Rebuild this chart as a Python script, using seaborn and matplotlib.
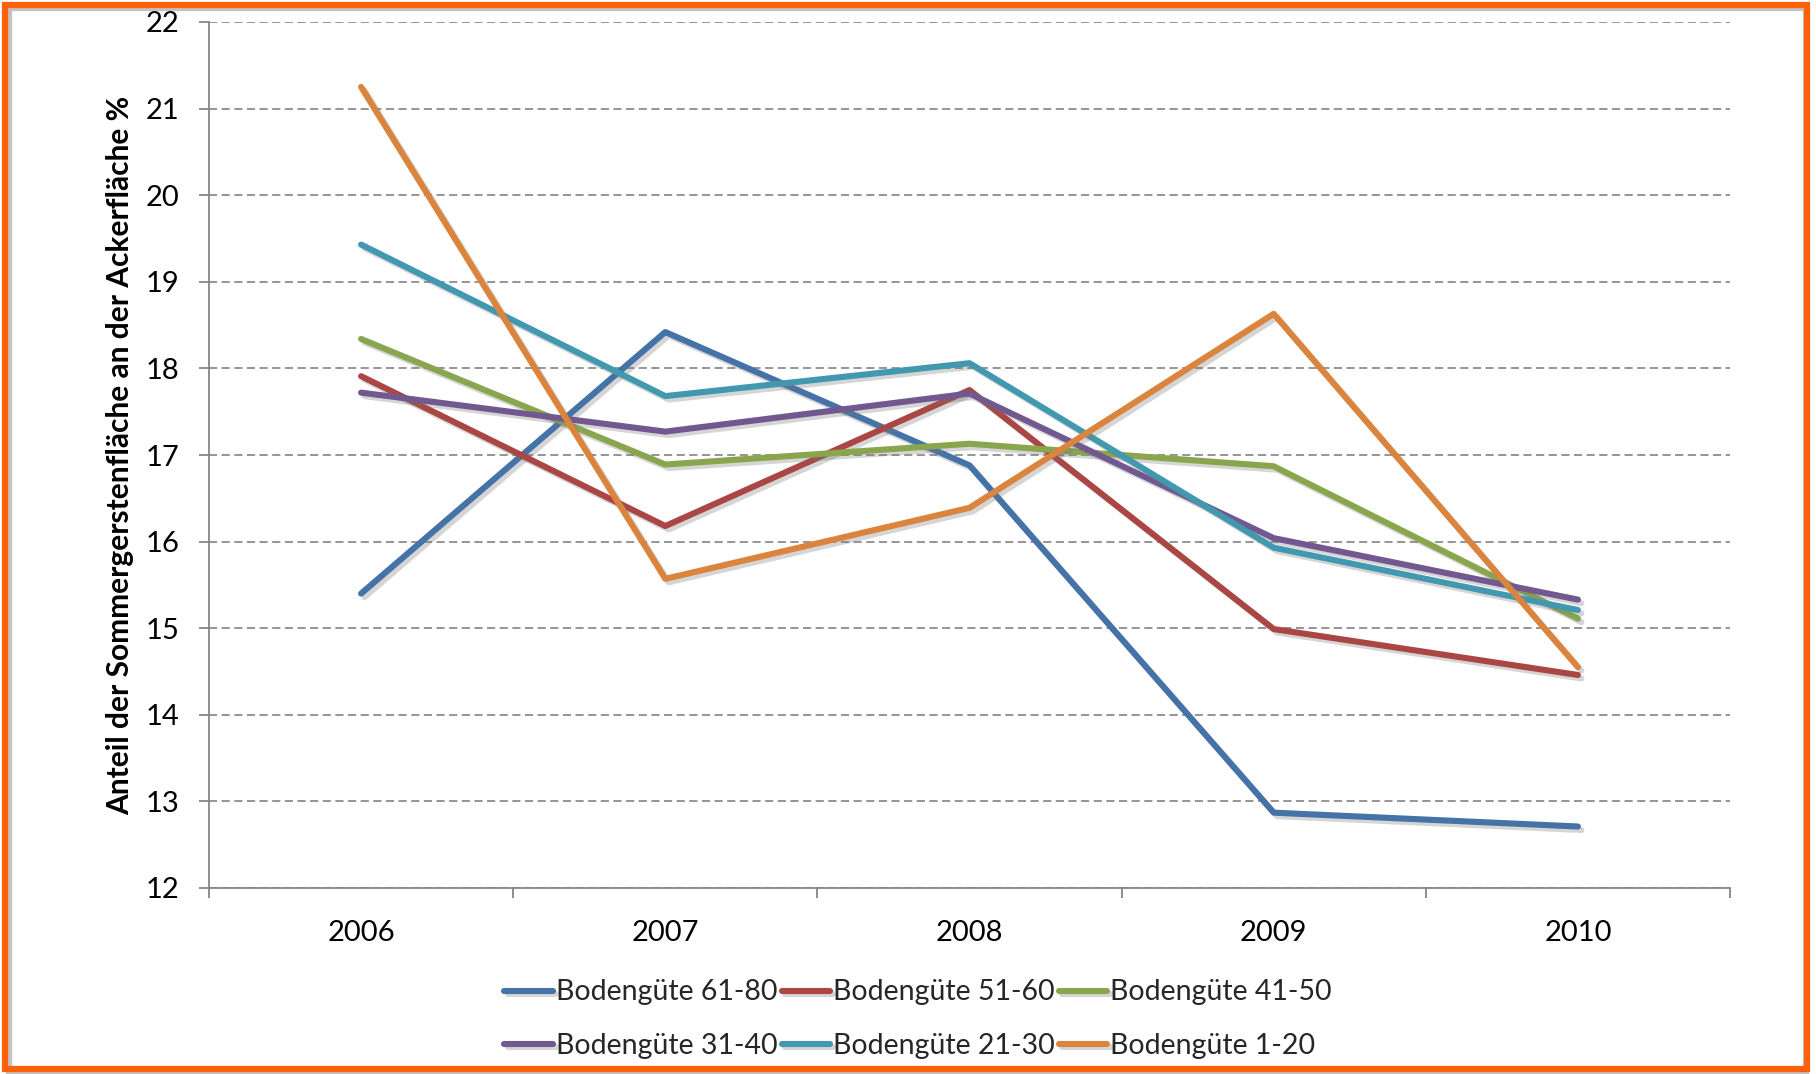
import numpy as np
import pandas as pd
import seaborn as sns
import matplotlib
matplotlib.use("Agg")
import matplotlib.pyplot as plt
import matplotlib.patheffects as pe
from matplotlib.patches import FancyBboxPatch
from matplotlib.ticker import FixedLocator

# ---------------- data ----------------
years = [2006, 2007, 2008, 2009, 2010]
series_names = ["Bodengüte 61-80", "Bodengüte 51-60", "Bodengüte 41-50",
                "Bodengüte 31-40", "Bodengüte 21-30", "Bodengüte 1-20"]
v_61_80 = [15.40, 18.42, 16.88, 12.87, 12.71]
v_51_60 = [17.91, 16.18, 17.75, 14.99, 14.46]
v_41_50 = [18.34, 16.89, 17.13, 16.87, 15.11]
v_31_40 = [17.72, 17.27, 17.71, 16.04, 15.33]
v_21_30 = [19.43, 17.68, 18.06, 15.93, 15.21]
v_1_20 = [21.25, 15.57, 16.39, 18.63, 14.55]
y_ticks = [12, 13, 14, 15, 16, 17, 18, 19, 20, 21, 22]
y_label = "Anteil der Sommergerstenfläche an der Ackerfläche %"
colors = ["#4572A7", "#AA4643", "#89A54E", "#71588F", "#4198AF", "#DB843D"]

values = [v_61_80, v_51_60, v_41_50, v_31_40, v_21_30, v_1_20]
df = pd.DataFrame({
    "Jahr": np.tile(years, len(series_names)),
    "Wert": np.concatenate(values),
    "Serie": np.repeat(series_names, len(years)),
})

# ---------------- style ----------------
sns.set_theme(style="white")
plt.rcParams["font.family"] = ["Lato", "DejaVu Sans"]

fig = plt.figure(figsize=(18.16, 10.74), dpi=100)
ax = fig.add_axes([209 / 1816, 1 - 888 / 1074, (1730 - 209) / 1816, (888 - 22) / 1074])

sns.lineplot(data=df, x="Jahr", y="Wert", hue="Serie", hue_order=series_names,
             palette=colors, linewidth=4.4, ax=ax, legend=True, sort=False)

for ln in ax.get_lines():
    ln.set_solid_capstyle("round")
    ln.set_path_effects([pe.SimpleLineShadow(offset=(2.5, -2.5), shadow_color="#777777", alpha=0.3),
                         pe.Normal()])

ax.set_xlim(2005.5, 2010.5)
ax.set_ylim(12, 22)
ax.set_yticks(y_ticks)
ax.set_xticks(years)
ax.set_xticklabels([str(y) for y in years])
ax.xaxis.set_minor_locator(FixedLocator([2005.5, 2006.5, 2007.5, 2008.5, 2009.5, 2010.5]))

grid_c = "#8c8c8c"
ax.yaxis.grid(True, linestyle=(0, (4.5, 2.5)), color=grid_c, linewidth=1.3)
ax.xaxis.grid(False)
for s in ["top", "right"]:
    ax.spines[s].set_visible(False)
for s in ["left", "bottom"]:
    ax.spines[s].set_color("#868686")
    ax.spines[s].set_linewidth(1.3)

ax.tick_params(axis="y", which="major", direction="out", length=7.2, width=1.3,
               color="#868686", pad=14, labelsize=21, labelcolor="black", left=True)
ax.tick_params(axis="x", which="major", length=0, pad=23, labelsize=21, labelcolor="black")
ax.tick_params(axis="x", which="minor", direction="out", length=7.2, width=1.3,
               color="#868686", bottom=True)

ax.set_xlabel("")
ax.set_ylabel(y_label, fontsize=21.5, fontweight="bold", color="black")
ax.yaxis.set_label_coords(-0.049, 0.5)

# legend: rows as in reference
handles, labels = ax.get_legend_handles_labels()
ax.get_legend().remove()
order = [0, 3, 1, 4, 2, 5]
leg = fig.legend([handles[i] for i in order], [labels[i] for i in order],
                 ncol=3, loc="center", bbox_to_anchor=(918 / 1816, 1 - 1019 / 1074),
                 frameon=False, fontsize=20.5, handlelength=1.7, handletextpad=0.1,
                 columnspacing=0.15, labelspacing=0.95)
for h in leg.get_lines():
    h.set_linewidth(4.4)
    h.set_solid_capstyle("round")

# orange frame with shadow
W, H = 1816, 1074
shadow = FancyBboxPatch((9 / W, 1 / H), (1806 - 9) / W, (1066 - 1) / H,
                        boxstyle="square,pad=0", transform=fig.transFigure,
                        fc="none", ec="#9a9a9a", lw=4.5, alpha=0.6, zorder=0)
frame = FancyBboxPatch((5 / W, 5 / H), (1807 - 5) / W, (1069 - 5) / H,
                       boxstyle="square,pad=0", transform=fig.transFigure,
                       fc="none", ec="#FF6009", lw=4.5, zorder=1)
fig.patches.extend([shadow, frame])

fig.savefig("out.png", dpi=100)
